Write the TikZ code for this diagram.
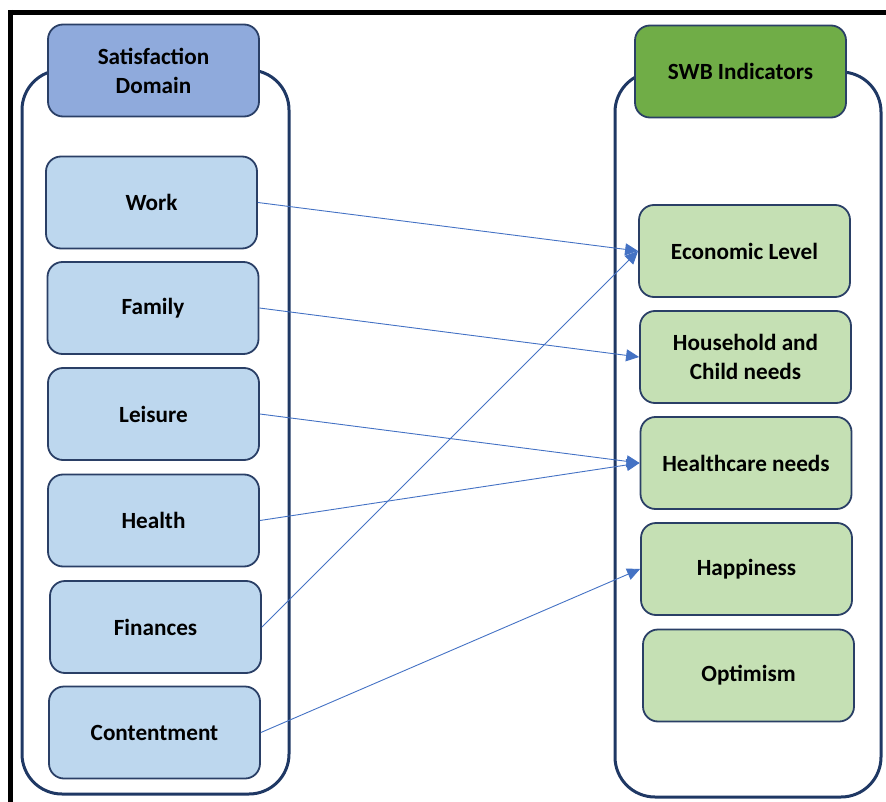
\documentclass[tikz,border=0pt]{standalone}
\usepackage{fontspec}
\setmainfont{Carlito}
\usetikzlibrary{arrows.meta}
\definecolor{hdrblue}{HTML}{8FAADC}
\definecolor{boxblue}{HTML}{BDD7EE}
\definecolor{hdrgreen}{HTML}{70AD47}
\definecolor{boxgreen}{HTML}{C5E0B4}
\definecolor{navy}{HTML}{1F3864}
\definecolor{boxline}{HTML}{2A3F66}
\definecolor{arrowblue}{HTML}{4472C4}
\tikzset{
  lbl/.style={font=\fontsize{23.2}{29}\selectfont\bfseries, align=center, text=black},
  boxbase/.style={lbl, draw=boxline, line width=1.8pt, rounded corners=15pt, minimum width=211pt, minimum height=92pt, inner sep=0pt},
  bluebox/.style={boxbase, fill=boxblue},
  greenbox/.style={boxbase, fill=boxgreen},
  bluehdr/.style={boxbase, fill=hdrblue},
  greenhdr/.style={boxbase, fill=hdrgreen},
  container/.style={draw=navy, line width=3pt, fill=white, rounded corners=40pt},
  link/.style={draw=arrowblue, line width=0.9pt, -{Triangle[length=13pt, width=12pt]}},
  frameline/.style={draw=black, line width=5pt}
}
\begin{document}
\begin{tikzpicture}[x=1pt, y=-1pt]
\useasboundingbox (0,0) rectangle (886,802);
% frame
\draw[frameline] (8,12.5) -- (886,12.5);
\draw[frameline] (10.8,10) -- (10.8,802);
% containers
\draw[container] (22,70) rectangle (289,794);
\draw[container] (615,72) rectangle (881,797);
% headers
\node[bluehdr] (sd) at (153.5,70.5) {Satisfaction\\Domain};
\node[greenhdr] (swb) at (740.5,71.5) {SWB Indicators};
% left boxes
\node[bluebox] (work) at (151.5,202.5) {Work};
\node[bluebox] (family) at (153,308) {Family};
\node[bluebox] (leisure) at (153.5,414) {Leisure};
\node[bluebox] (health) at (153.5,520.5) {Health};
\node[bluebox] (finances) at (155.5,627) {Finances};
\node[bluebox] (content) at (154.5,732.5) {Contentment};
% right boxes
\node[greenbox] (econ) at (744.5,251) {Economic Level};
\node[greenbox] (house) at (745.5,357) {Household and\\Child needs};
\node[greenbox] (healthc) at (746,463) {Healthcare needs};
\node[greenbox] (happy) at (746.5,569) {Happiness};
\node[greenbox] (optim) at (748.5,675.5) {Optimism};
% connectors
\draw[link] (work.east) -- (econ.west);
\draw[link] (finances.east) -- (econ.west);
\draw[link] (family.east) -- (house.west);
\draw[link] (leisure.east) -- (healthc.west);
\draw[link] (health.east) -- (healthc.west);
\draw[link] (content.east) -- (happy.west);
\end{tikzpicture}
\end{document}
